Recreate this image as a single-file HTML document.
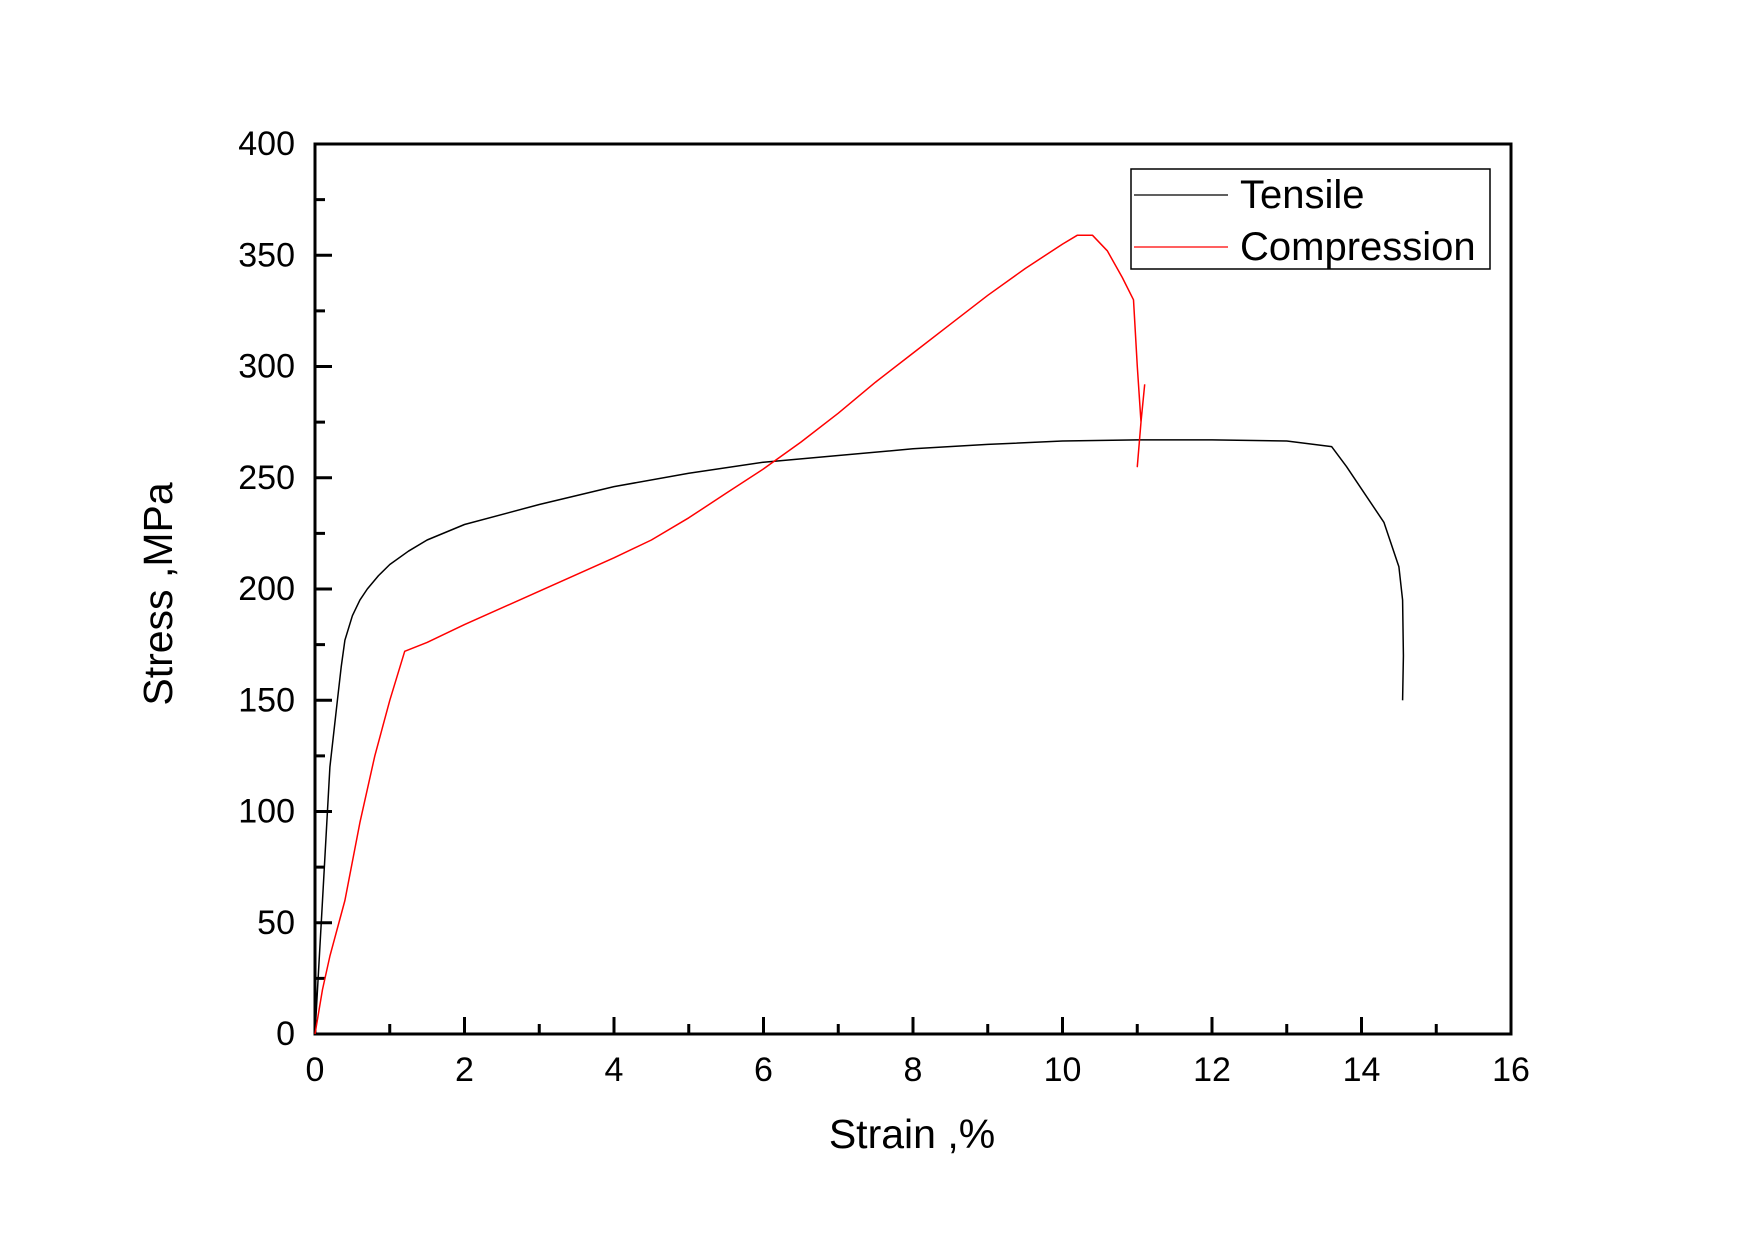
<!DOCTYPE html>
<html><head><meta charset="utf-8"><style>body{margin:0;background:#fff}svg{display:block}text{font-family:"Liberation Sans",Arial,sans-serif;fill:#000}</style></head>
<body>
<svg id="chart" width="1755" height="1240" viewBox="0 0 1755 1240" xmlns="http://www.w3.org/2000/svg">
<g id="axes"></g>
<g id="series"></g>
<g>
<rect x="1131" y="169" width="359" height="100" fill="#fff" stroke="#000" stroke-width="1.5"/>
<line x1="1134" y1="195" x2="1228" y2="195" stroke="#000" stroke-width="1.3"/>
<text x="1240" y="208" font-size="40">Tensile</text>
<line x1="1134" y1="247" x2="1228" y2="247" stroke="#f00" stroke-width="1.3"/>
<text x="1240" y="260" font-size="40">Compression</text>
</g>
<text x="912" y="1148" font-size="41" text-anchor="middle">Strain ,%</text>
<text transform="translate(172,594) rotate(-90)" font-size="41" text-anchor="middle">Stress ,MPa</text>
</svg>
<script>
const xTicks=[0,2,4,6,8,10,12,14,16];
const yTicks=[0,50,100,150,200,250,300,350,400];
const tensileX=[0,0.1,0.2,0.3,0.35,0.4,0.5,0.6,0.7,0.85,1,1.25,1.5,2,3,4,5,6,7,8,9,10,11,12,13,13.6,13.8,14,14.3,14.5,14.55,14.56,14.55];
const tensileY=[0,60,120,150,165,177,188,195,200,206,211,217,222,229,238,246,252,257,260,263,265,266.5,267,267,266.5,264,255,245,230,210,195,170,150];
const compX=[0,0.1,0.2,0.4,0.6,0.8,1,1.2,1.5,2,3,4,4.5,5,5.5,6,6.5,7,7.5,8,8.5,9,9.5,10,10.2,10.4,10.6,10.8,10.95,11,11.05,11,11.05,11.1];
const compY=[0,20,35,60,95,125,150,172,176,184,199,214,222,232,243,254,266,279,293,306,319,332,344,355,359,359,352,340,330,300,275,255,275,292];
const L=315,R=1511,T=144,B=1034;
const sx=v=>L+(v-0)/(16-0)*(R-L);
const sy=v=>B-(v-0)/(400-0)*(B-T);
const NS="http://www.w3.org/2000/svg";
const ax=document.getElementById('axes'),se=document.getElementById('series');
function mk(tag,attrs,parent){const e=document.createElementNS(NS,tag);for(const k in attrs)e.setAttribute(k,attrs[k]);parent.appendChild(e);return e;}
const frame=mk('rect',{x:L,y:T,width:R-L,height:B-T,fill:'none',stroke:'#000','stroke-width':3},ax);


for(let i=0;i<xTicks.length;i++){
 const x=sx(xTicks[i]);
 const t=mk('line',{x1:x,y1:B,x2:x,y2:B-17,stroke:'#000','stroke-width':3},ax);
 
 
 if(i<xTicks.length-1){const xm=sx((xTicks[i]+xTicks[i+1])/2);
  const m=mk('line',{x1:xm,y1:B,x2:xm,y2:B-10,stroke:'#000','stroke-width':3},ax);
  
  }
 const lb=mk('text',{x:x,y:1081,'font-size':34,'text-anchor':'middle'},ax);lb.textContent=xTicks[i];
 
 
}
for(let i=0;i<yTicks.length;i++){
 const y=sy(yTicks[i]);
 const t=mk('line',{x1:L,y1:y,x2:L+17,y2:y,stroke:'#000','stroke-width':3},ax);
 
 
 if(i<yTicks.length-1){const ym=sy((yTicks[i]+yTicks[i+1])/2);
  const m=mk('line',{x1:L,y1:ym,x2:L+10,y2:ym,stroke:'#000','stroke-width':3},ax);
  
  }
 const lb=mk('text',{x:295,y:y+11,'font-size':34,'text-anchor':'end'},ax);lb.textContent=yTicks[i];
 
 
}
function line(xs,ys,color,name){
 const d=xs.map((v,i)=>(i?'L':'M')+sx(v).toFixed(1)+','+sy(ys[i]).toFixed(1)).join(' ');
 const p=mk('path',{d:d,fill:'none',stroke:color,'stroke-width':1.5,'stroke-linejoin':'round'},se);
 
 
}
line(tensileX,tensileY,'#000','tensile-line');
line(compX,compY,'#f00','compression-line');
</script>
</body></html>
